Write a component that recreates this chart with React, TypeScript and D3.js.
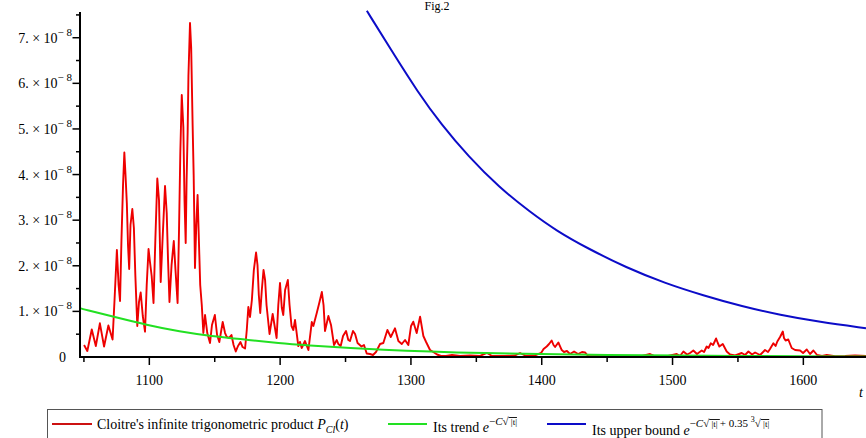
import React from "react";
import * as d3 from "d3";

// values in units of 1e-8
const W = 866;
const H = 438;

const redT = [1050.1,1052.6,1056.0,1059.1,1062.2,1065.4,1068.7,1071.9,1073.4,1075.2,1076.5,1077.6,1078.7,1079.9,1080.9,1081.8,1082.8,1083.7,1084.6,1085.6,1087.0,1088.2,1089.3,1090.8,1092.1,1093.4,1095.0,1096.7,1098.0,1099.4,1100.5,1101.8,1103.2,1104.6,1106.1,1107.4,1108.7,1110.1,1112.0,1113.3,1114.3,1115.4,1117.0,1118.7,1120.0,1121.6,1122.7,1123.7,1124.8,1126.0,1126.9,1127.8,1128.5,1129.3,1129.9,1131.1,1132.0,1133.1,1133.9,1134.9,1135.9,1136.9,1138.0,1138.9,1140.1,1141.3,1142.6,1144.3,1146.4,1147.9,1150.1,1151.8,1153.5,1156.1,1157.9,1159.2,1160.9,1162.8,1164.4,1166.1,1167.8,1169.7,1171.3,1173.2,1174.5,1175.7,1177.0,1178.4,1179.9,1181.6,1182.7,1183.7,1184.8,1186.0,1187.3,1188.5,1189.6,1191.9,1194.3,1197.3,1198.6,1199.9,1201.3,1202.4,1203.8,1205.9,1207.2,1208.7,1210.1,1211.4,1213.9,1215.2,1216.5,1219.0,1221.6,1224.2,1225.4,1228.0,1230.1,1231.9,1233.2,1234.3,1236.9,1238.9,1241.2,1243.3,1244.5,1246.3,1248.1,1250.4,1252.1,1253.4,1255.7,1257.3,1259.2,1262.2,1264.1,1266.2,1268.7,1271.0,1273.3,1276.4,1278.9,1282.0,1284.6,1287.8,1290.4,1293.0,1295.5,1298.0,1300.1,1301.8,1304.4,1307.0,1309.5,1311.6,1314.6,1317.1,1320.0,1323.0,1326.8,1331.4,1337.5,1345.2,1352.8,1358.2,1362.0,1371.9,1379.6,1383.4,1388.0,1394.9,1399.5,1401.4,1403.8,1405.6,1407.6,1409.0,1410.2,1412.7,1415.3,1417.0,1419.3,1421.6,1424.7,1427.8,1430.8,1433.1,1435.4,1444.6,1459.9,1475.2,1482.8,1486.6,1496.6,1503.2,1505.7,1508.3,1511.1,1513.4,1515.9,1518.7,1522.3,1524.1,1526.1,1527.5,1529.2,1531.0,1533.3,1534.6,1535.8,1538.4,1541.4,1544.0,1547.8,1552.9,1555.4,1558.0,1560.8,1563.1,1566.9,1570.7,1573.0,1574.5,1577.1,1578.8,1580.1,1582.2,1584.3,1585.2,1586.4,1588.5,1591.1,1593.7,1597.5,1599.8,1602.6,1605.1,1607.7,1610.5,1614.3,1617.9,1624.2,1631.9,1639.5,1647.9];
const redV = [0.263,0.132,0.603,0.241,0.739,0.230,0.691,0.384,1.250,2.346,1.579,1.228,2.565,3.771,4.484,3.990,3.376,2.456,1.929,2.894,3.245,2.828,1.798,0.680,1.206,1.414,0.899,0.555,1.579,2.368,2.083,1.776,1.184,2.565,3.914,3.442,1.644,2.565,3.749,3.157,2.127,1.206,2.017,2.543,1.907,1.184,2.784,4.495,5.744,5.043,3.442,2.499,3.881,4.933,6.161,7.323,6.775,5.087,3.990,1.951,2.894,3.552,2.456,1.579,1.140,0.526,0.921,0.526,0.307,0.702,0.921,0.482,0.329,0.767,0.526,0.439,0.417,0.482,0.263,0.121,0.241,0.329,0.219,0.186,0.592,1.096,0.877,1.250,1.907,2.291,2.017,1.359,0.965,1.469,1.907,1.688,1.140,0.504,0.943,0.417,1.140,1.622,1.074,0.921,1.469,1.688,1.140,0.680,0.592,0.811,0.241,0.329,0.197,0.351,0.153,0.767,0.680,0.965,1.206,1.425,1.140,0.570,0.899,0.702,0.263,0.373,0.285,0.241,0.460,0.570,0.373,0.351,0.570,0.504,0.307,0.230,0.263,0.077,0.066,0.044,0.110,0.285,0.307,0.592,0.439,0.629,0.351,0.285,0.373,0.263,0.680,0.774,0.526,0.884,0.460,0.329,0.153,0.110,0.055,0.022,0.022,0.044,0.022,0.033,0.022,0.088,0.022,0.022,0.033,0.088,0.022,0.033,0.088,0.175,0.230,0.285,0.362,0.263,0.219,0.318,0.153,0.110,0.132,0.066,0.121,0.066,0.110,0.099,0.022,0.015,0.022,0.015,0.066,0.015,0.022,0.066,0.022,0.121,0.055,0.088,0.143,0.066,0.143,0.110,0.230,0.197,0.300,0.263,0.406,0.307,0.230,0.285,0.121,0.055,0.033,0.088,0.044,0.121,0.055,0.099,0.044,0.153,0.110,0.175,0.300,0.241,0.340,0.439,0.559,0.417,0.362,0.384,0.197,0.153,0.143,0.088,0.164,0.066,0.143,0.044,0.022,0.044,0.018,0.022,0.033,0.022];

const trendT = [1047.0,1049.5,1072.5,1098.0,1123.5,1146.4,1177.0,1199.9,1215.2,1276.4,1352.8,1450.0,1550.0,1647.9];
const trendV = [1.07,1.046,0.884,0.702,0.555,0.460,0.373,0.300,0.263,0.153,0.081,0.040,0.022,0.012];

const boundT = [1266.3,1284.9,1305.4,1323.2,1343.8,1367.4,1391.0,1411.6,1435.2,1464.6,1494.1,1523.5,1553.1,1582.5,1612.0,1647.9];
const boundV = [7.59,6.73,5.80,5.10,4.40,3.72,3.18,2.76,2.38,1.96,1.62,1.35,1.11,0.92,0.77,0.63];

const xMajor = [1100, 1200, 1300, 1400, 1500, 1600];
const xMinor = [1050, 1150, 1250, 1350, 1450, 1550];
const yMajor = [1, 2, 3, 4, 5, 6, 7];
const yMinor = [0.5, 1.5, 2.5, 3.5, 4.5, 5.5, 6.5, 7.5];
const xDomain = [1047.0, 1647.9];
const yDomain = [0, 7.564];

const FONT = "Liberation Serif, DejaVu Serif, serif";

export default function App() {
  const x = d3.scaleLinear().domain(xDomain).range([80, 866]);
  const y = d3.scaleLinear().domain(yDomain).range([357, 12]);
  const mk = (ts: number[], vs: number[], curve: any) =>
    d3.line<number>().x((_, i) => x(ts[i])).y((_, i) => y(vs[i])).curve(curve)(ts) || "";

  const redPath = mk(redT, redV, d3.curveLinear);
  const trendPath = mk(trendT, trendV, d3.curveBasis);
  const boundPath = mk(boundT, boundV, d3.curveBasis);

  return (
    <svg width={W} height={H} style={{ position: "absolute", left: 0, top: 0, background: "#fff", fontFamily: FONT }}>
      <rect x={0} y={0} width={W} height={H} fill="#fff" />
      <text x={437} y={10} fontSize={12} textAnchor="middle" fill="#000">Fig.2</text>

      <path d={redPath} fill="none" stroke="#ee0000" strokeWidth={1.9} strokeLinejoin="round" />
      <path d={trendPath} fill="none" stroke="#22e022" strokeWidth={2} />
      <path d={boundPath} fill="none" stroke="#0c0cc8" strokeWidth={2} />

      <line x1={80} x2={80} y1={12} y2={358} stroke="#000" strokeWidth={2} />
      <line x1={79} x2={866} y1={357} y2={357} stroke="#000" strokeWidth={2} />

      {yMajor.map((v) => (
        <g key={"ym" + v}>
          <line x1={72.5} x2={80} y1={y(v)} y2={y(v)} stroke="#000" strokeWidth={1.5} />
          <text x={72} y={y(v) + 5} fontSize={14} textAnchor="end" fill="#000">
            {v + ". × 10"}
            <tspan fontSize={11} dy={-7}>{"− 8"}</tspan>
          </text>
        </g>
      ))}
      {yMinor.map((v) => (
        <line key={"yn" + v} x1={76} x2={80} y1={y(v)} y2={y(v)} stroke="#000" strokeWidth={1.5} />
      ))}
      <text x={66} y={362} fontSize={14} textAnchor="end" fill="#000">0</text>

      {xMajor.map((t) => (
        <g key={"xm" + t}>
          <line x1={x(t)} x2={x(t)} y1={357} y2={365} stroke="#000" strokeWidth={1.5} />
          <text x={x(t)} y={385} fontSize={14} textAnchor="middle" fill="#000">{t}</text>
        </g>
      ))}
      {xMinor.map((t) => (
        <line key={"xn" + t} x1={x(t)} x2={x(t)} y1={357} y2={362} stroke="#000" strokeWidth={1.5} />
      ))}
      <text x={861} y={397} fontSize={14} fontStyle="italic" textAnchor="middle" fill="#000">t</text>

      <rect x={47.5} y={409.5} width={774.5} height={40} fill="#fff" stroke="#555" strokeWidth={1} />
      <line x1={52} x2={92} y1={424} y2={424} stroke="#cc1111" strokeWidth={2} />
      <text x={97} y={429} fontSize={14} fill="#000">
        {"Cloitre's infinite trigonometric product "}
        <tspan fontStyle="italic">P</tspan>
        <tspan fontStyle="italic" fontSize={10} dy={4}>{"Cl"}</tspan>
        <tspan dy={-4}>{"("}</tspan>
        <tspan fontStyle="italic">t</tspan>
        <tspan>{")"}</tspan>
      </text>
      <line x1={388} x2={427} y1={424} y2={424} stroke="#22e022" strokeWidth={2} />
      <text x={433} y={432} fontSize={14} fill="#000">
        {"Its trend "}
        <tspan fontStyle="italic">e</tspan>
        <tspan fontSize={11} dy={-7}>{"−"}</tspan>
        <tspan fontSize={11} fontStyle="italic">C</tspan>
        <tspan fontSize={11}>{"√"}</tspan>
        <tspan fontSize={9} textDecoration="overline">{" |t| "}</tspan>
      </text>
      <line x1={547} x2={586} y1={424} y2={424} stroke="#0c0cc8" strokeWidth={2} />
      <text x={592} y={435} fontSize={14} fill="#000">
        {"Its upper bound "}
        <tspan fontStyle="italic">e</tspan>
        <tspan fontSize={11} dy={-8}>{"−"}</tspan>
        <tspan fontSize={11} fontStyle="italic">C</tspan>
        <tspan fontSize={11}>{"√"}</tspan>
        <tspan fontSize={9} textDecoration="overline">{" |t| "}</tspan>
        <tspan fontSize={11}>{" + 0.35 "}</tspan>
        <tspan fontSize={8} dy={-5}>{"3"}</tspan>
        <tspan fontSize={11} dy={5}>{"√"}</tspan>
        <tspan fontSize={9} textDecoration="overline">{" |t| "}</tspan>
      </text>
    </svg>
  );
}
